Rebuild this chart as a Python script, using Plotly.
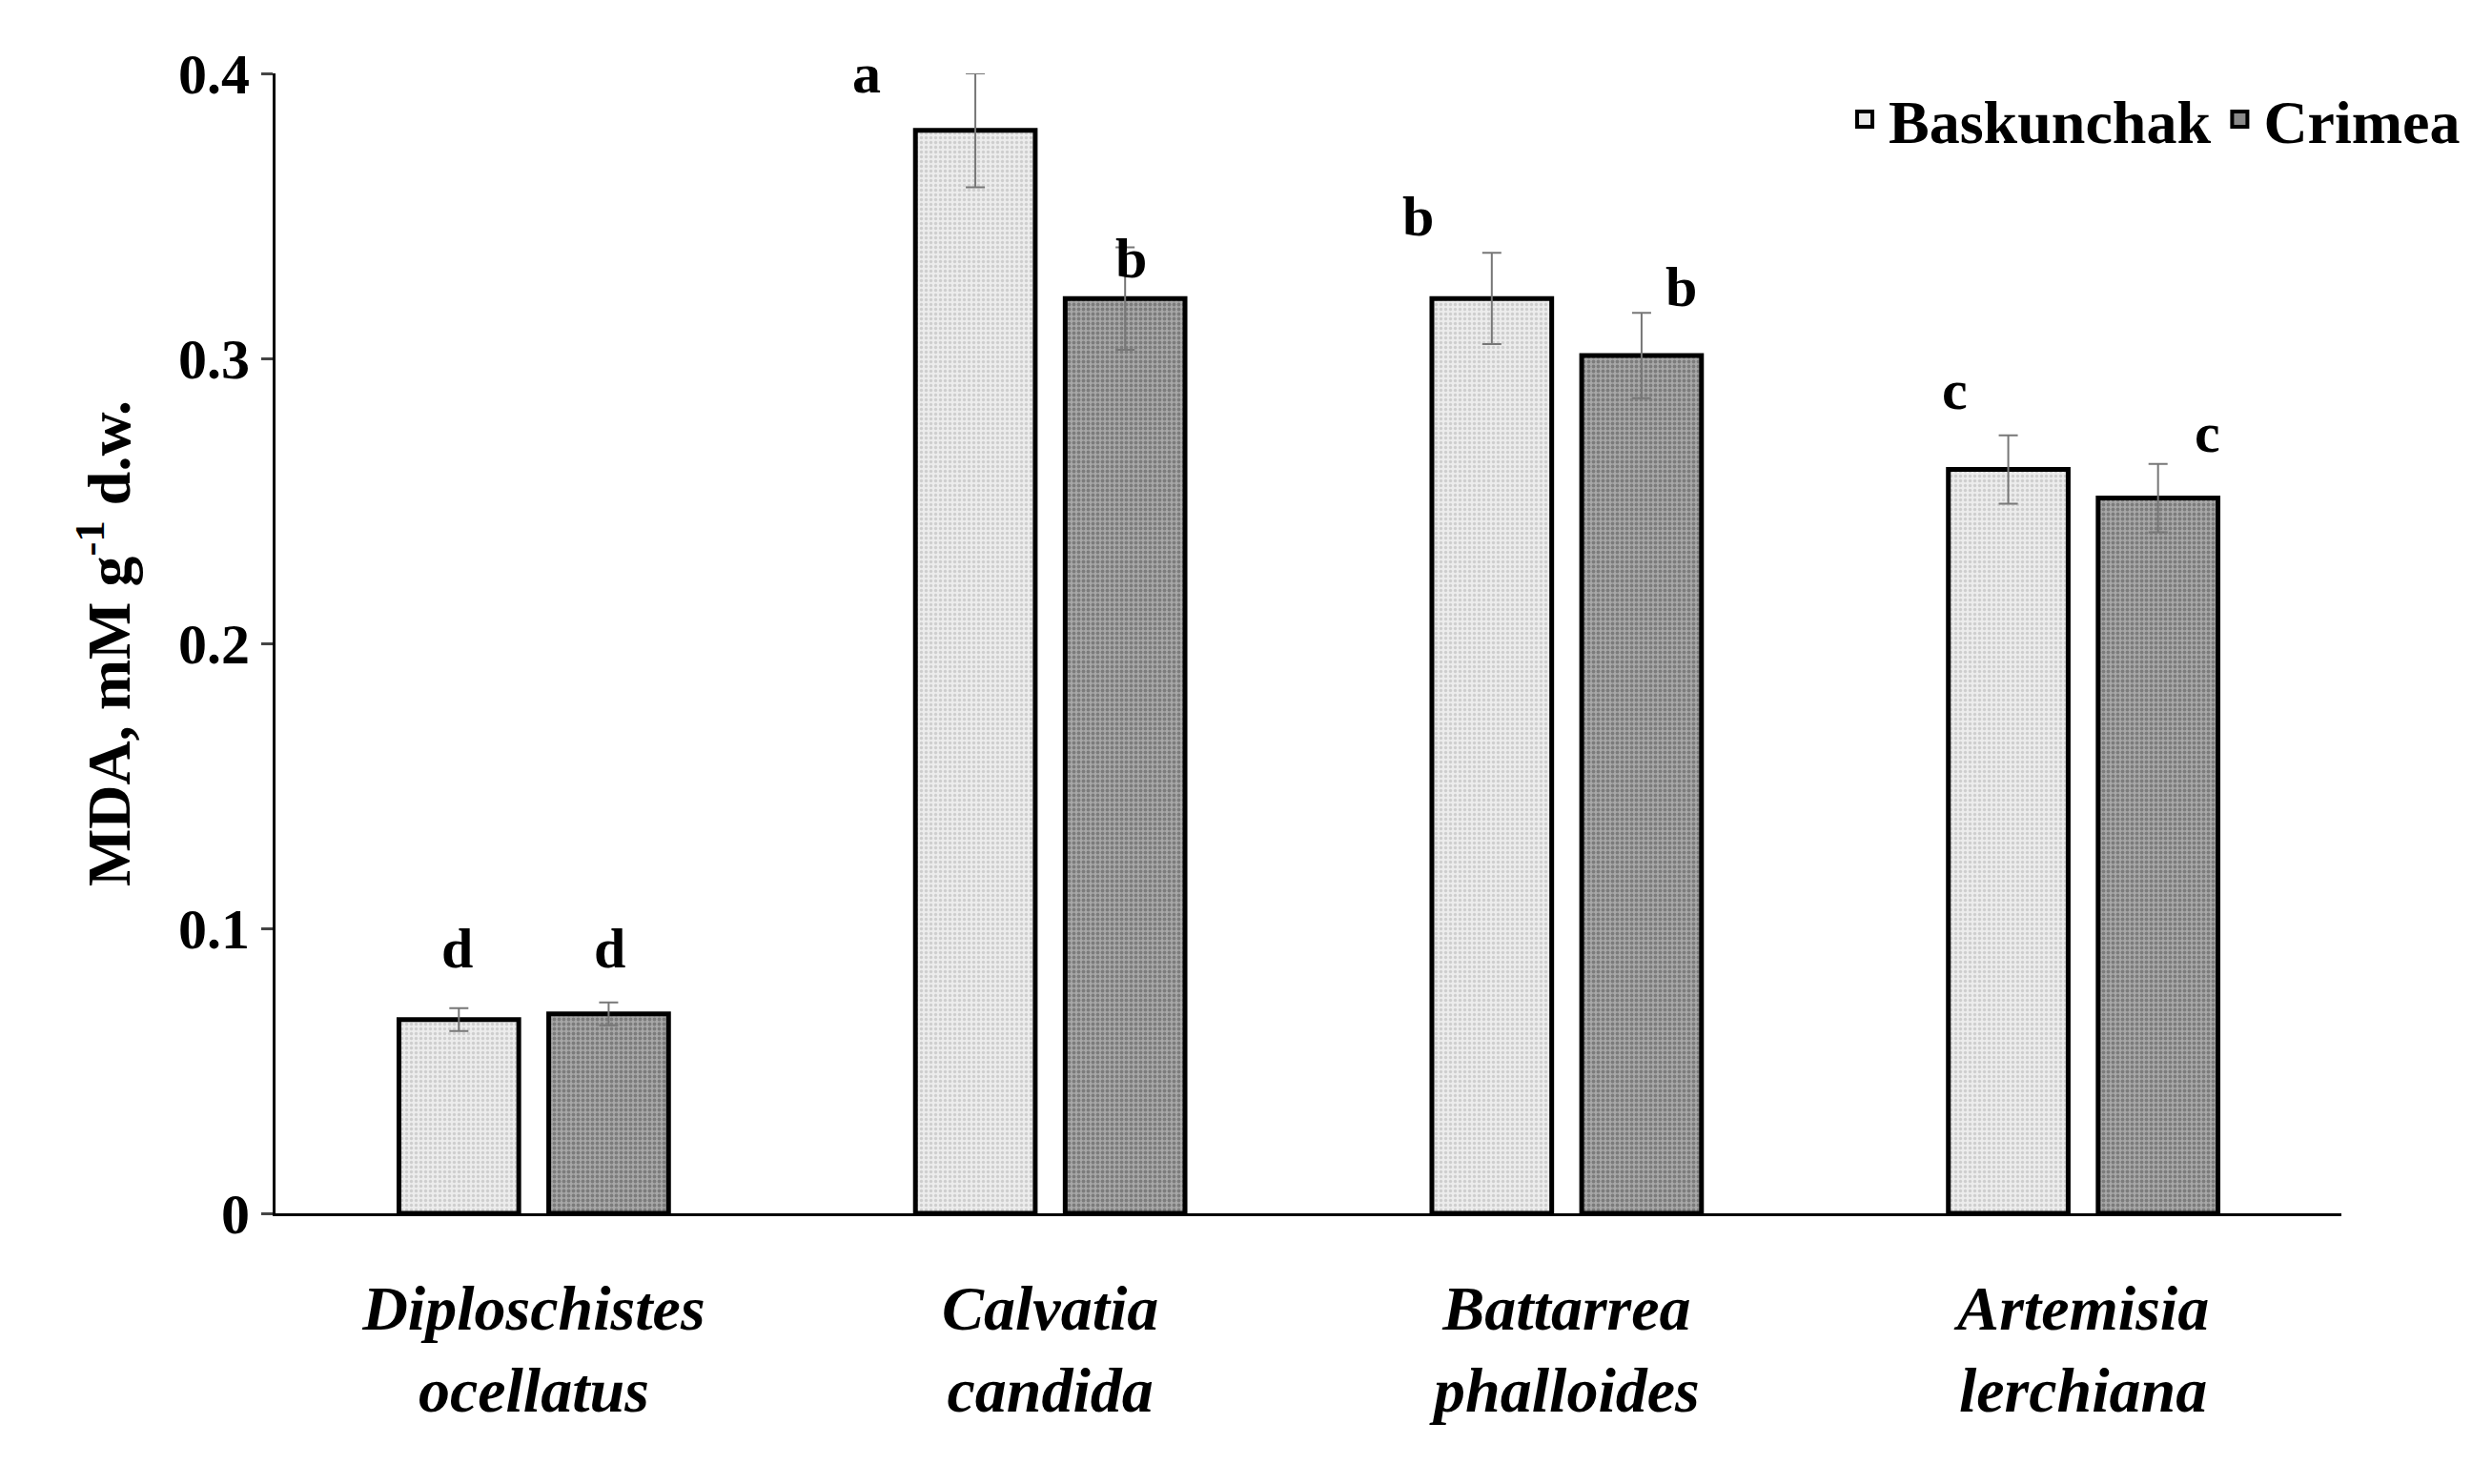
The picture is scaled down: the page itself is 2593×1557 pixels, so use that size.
import plotly.graph_objects as go

categories = ["<i>Diploschistes</i><br><i>ocellatus</i>", "<i>Calvatia</i><br><i>candida</i>",
              "<i>Battarrea</i><br><i>phalloides</i>", "<i>Artemisia</i><br><i>lerchiana</i>"]
bask = [0.068, 0.380, 0.321, 0.261]
bask_err = [0.004, 0.020, 0.016, 0.012]
crim = [0.070, 0.321, 0.301, 0.251]
crim_err = [0.004, 0.018, 0.015, 0.012]
bask_letters = ["d", "a", "b", "c"]
bask_letter_y = [0.093, 0.400, 0.350, 0.289]
crim_letters = ["d", "b", "b", "c"]
crim_letter_y = [0.093, 0.335, 0.325, 0.274]
bask_letter_dx = [0, -113, -76, -55]
crim_letter_dx = [0, 5, 40, 50]

FONT = "Liberation Serif"
fig = go.Figure()
fig.add_bar(name="Baskunchak", x=categories, y=bask, showlegend=False,
            error_y=dict(type="data", array=bask_err, color="#777", thickness=2, width=10),
            marker=dict(color="#ececec", line=dict(color="black", width=5),
                        pattern=dict(shape=".", fgcolor="#b0b0b0", bgcolor="#ececec", size=5, solidity=0.35)))
fig.add_bar(name="Crimea", x=categories, y=crim, showlegend=False,
            error_y=dict(type="data", array=crim_err, color="#777", thickness=2, width=10),
            marker=dict(color="#999", line=dict(color="black", width=5),
                        pattern=dict(shape=".", fgcolor="#505050", bgcolor="#a8a8a8", size=5, solidity=0.45)))
# legend entries with larger square swatches
fig.add_scatter(name="<b>Baskunchak</b>", x=[None], y=[None], mode="markers",
                marker=dict(symbol="square", size=40, color="#ececec", line=dict(color="black", width=4)))
fig.add_scatter(name="<b>Crimea</b>", x=[None], y=[None], mode="markers",
                marker=dict(symbol="square", size=40, color="#8a8a8a", line=dict(color="black", width=4)))

anns = []
for i, c in enumerate(categories):
    anns.append(dict(x=c, y=bask_letter_y[i], xref="x", yref="y", text="<b>%s</b>" % bask_letters[i],
                     showarrow=False, xshift=-80 + bask_letter_dx[i], font=dict(size=60, family=FONT, color="black")))
    anns.append(dict(x=c, y=crim_letter_y[i], xref="x", yref="y", text="<b>%s</b>" % crim_letters[i],
                     showarrow=False, xshift=80 + crim_letter_dx[i], font=dict(size=60, family=FONT, color="black")))

fig.update_layout(
    width=2593, height=1557, plot_bgcolor="white", paper_bgcolor="white",
    margin=dict(l=281, r=145, t=69, b=292),
    barmode="group", bargap=0.42, bargroupgap=0.2,
    font=dict(family=FONT, size=60, color="black"),
    annotations=anns,
    legend=dict(orientation="h", x=1.06, xanchor="right", y=1.0, yanchor="top", itemwidth=40,
                font=dict(size=64, family=FONT), bgcolor="rgba(0,0,0,0)"),
    xaxis=dict(showline=True, linecolor="black", linewidth=3, ticks="",
               tickfont=dict(size=66, family=FONT, weight="bold"), ticklabelstandoff=40),
    yaxis=dict(range=[0, 0.4], tickvals=[0, 0.1, 0.2, 0.3, 0.4], ticktext=["0", "0.1", "0.2", "0.3", "0.4"],
               showline=True, linecolor="black", linewidth=3, ticks="outside", ticklen=12, tickwidth=3,
               showgrid=False, zeroline=False, tickfont=dict(size=60, family=FONT, weight="bold"),
               title=dict(text="<b>MDA, mM g<sup>-1</sup> d.w.</b>", font=dict(size=64, family=FONT), standoff=30)),
)
fig.write_html("out.html")
